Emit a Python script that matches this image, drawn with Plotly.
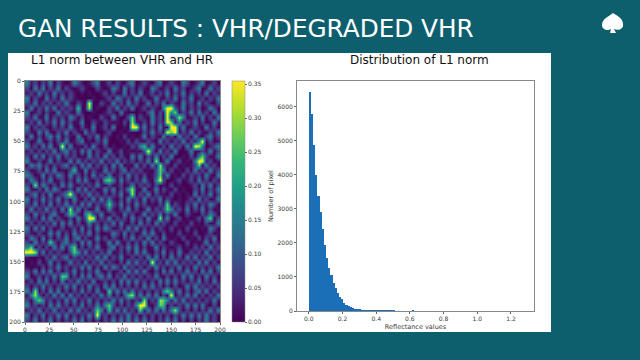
import plotly.graph_objects as go

BG = "#0E5F6E"
TXT = "#3A3A3A"
W, H = 640, 360

# Map of absolute error, coarse cells estimated by eye (digit 0-9 -> 0.0-0.35)
base_rows = [
"31202130210132101230120210230121023012103201230120",
"20313021302101210021013203120210320120312012301312",
"12031203120210101001202013021301202130213021203021",
"30210312031210000100120321203120131021302130120213",
"21302120213102100002103120312013021302103120312102",
"13021313021210010010021302130120210310213021201320",
"30120210312103100100121031000102302123102130312031",
"21301302120320201002103100210210312021203012130203",
"12030213031201300210210102001020312102130213020131",
"30212102120310210301203001020130203103213012103120",
"21031310213021031200120010100021312021302130210213",
"13020231302103102130210102010130210312031203102312",
"20131020213012301021300010202102103120213021310201",
"31203130120301020310201001021301310203120312030123",
"12020213023120313021030120101020203120300130121302",
"20313021302120103120312021031302130213001020312013",
"31020130210303120213021302120213020130120103021201",
"13231202123020313021203130103020310210201012103120",
"20120313010201030210312023021201021302010203120312",
"32013021320312020312130120312020120130102021203103",
"13202130120203131020203031202131031200120120312021",
"20313202031310202131020120130212020102010012031302",
"31020313201203130201313021301030130210201002130213",
"12302030123120213120202130120213021102010103021302",
"30213121302031020303131020312030213021010120312013",
"21302030213120313021202130203120102130210213021320",
"13021312030213020130131021302013021203120302130201",
"20312023102131030213002103120130213021300210021320",
"31203130210203120302130212031203102130120101203102",
"12020213031302013120213031020312031210201020102013",
"30313020120120302031320120313020202102010201010320",
"21020131302031213020013203020131310201020102001201",
"13203020213023020131202102131203020310102010202130",
"20312132023120313020130310202031302102100201013021",
"31020203130310202131023021313020130210120102120312",
"21313020210203130202130120203131021302031021203021",
"10010213123021202131302131020203130203120313021302",
"01020130201312030213021020313120212031302120313020",
"10102021312021313020313203120202131202130203120213",
"21303130202130202131020120313131020313021312031302",
"30120213123020313023130213020202131020203130203120",
"12031302030213120301202031313120203131312021302031",
"20213120213130203120313020202031312020201313121202",
"31302031302021312031021313131202021313130202313021",
"13020213130312020213130202031313130202021313020213",
"20313120203130213020213131202020213131313020202131",
"31202031312021302131302020213131020202021313131020",
"12130213020313120203021313120213131313120202021313",
"30213021313020213131202021312020202020213131313120",
"21302130202131302020213131313131202131302020213120",
]
# Bright spots: (row, column, digit)
hot_cells = [
(4,16,9),(5,16,8),(5,13,6),(5,36,9),(5,37,9),(6,36,9),(7,36,9),(7,27,7),(8,27,8),(9,27,9),(9,28,9),
(6,38,7),(7,39,8),(8,36,9),(8,37,7),(9,37,9),(9,38,9),(10,38,9),(10,36,9),(10,37,7),(12,45,9),(13,43,9),(13,44,8),
(13,30,6),(16,44,9),(16,45,9),(15,45,7),(17,44,7),(13,9,9),(14,31,9),(16,33,8),(17,34,8),(18,34,7),(19,34,7),
(20,34,9),(18,12,6),(21,2,8),(23,11,9),(22,27,8),(23,27,8),(20,21,7),(20,20,6),(26,11,8),(27,11,6),
(28,16,9),(28,17,9),(27,16,7),(25,21,7),(25,36,7),(26,36,7),(28,47,7),(28,34,8),
(35,0,9),(35,1,9),(35,2,8),(34,1,7),(33,6,7),(34,12,7),(35,12,7),(37,32,9),(40,9,7),(40,10,6),
(43,2,8),(44,2,8),(45,3,7),(43,21,7),(44,27,8),(44,26,6),(46,29,9),(46,30,9),(45,30,8),(47,29,7),(45,34,8),(45,35,7),
(44,37,9),(43,36,7),(47,38,8),(48,18,9),(47,18,7),(46,21,7),(47,21,6),(46,34,7),(46,35,6),
]
digit_values = [0.0,0.02,0.08,0.155,0.18,0.21,0.24,0.27,0.31,0.37]

error_max = 0.355
cell_size = 4
hist_bin_width = 0.0128
hist_counts = [6440,5785,4875,3995,3386,2915,2408,1938,1565,1263,1057,831,684,529,420,352,
226,176,147,109,80,62,46,36,28,24,20,18,15,12,10,7,5,4,3,3,2,2,1,9,0,0,0,0,0,0,0,0,7]
hist_ticks_x = [0.0,0.2,0.4,0.6,0.8,1.0,1.2]
hist_ticks_y = [0,1000,2000,3000,4000,5000,6000]
map_ticks = [0,25,50,75,100,125,150,175,200]
cbar_ticks = [0.00,0.05,0.10,0.15,0.20,0.25,0.30,0.35]

grid = [[int(c) for c in r.ljust(50,"1")[:50]] for r in base_rows]
for r, c, v in hot_cells:
    grid[r][c] = v
z = [[digit_values[d] for d in row] for row in grid]
cell_centers = [cell_size * (i + 0.5) for i in range(50)]
bin_centers = [hist_bin_width * (i + 0.5) for i in range(len(hist_counts))]

def dx(a, b): return [a / W, b / W]
def dy(top, bot): return [1 - bot / H, 1 - top / H]

fig = go.Figure()
fig.add_trace(go.Heatmap(
    x=cell_centers, y=cell_centers, z=z, colorscale="Viridis", zmin=0, zmax=error_max, zsmooth="best",
    xaxis="x", yaxis="y",
    colorbar=dict(x=232/W, xanchor="left", xpad=0, ypad=0, y=(H-322)/H, yanchor="bottom",
                  len=241/H, lenmode="fraction", thickness=13, thicknessmode="pixels",
                  tickvals=cbar_ticks, ticktext=[f"{v:.2f}" for v in cbar_ticks],
                  ticks="outside", ticklen=2, tickwidth=1, tickcolor="#666",
                  tickfont=dict(family="DejaVu Sans", size=6, color=TXT),
                  outlinewidth=0.5, outlinecolor="#888"),
))
fig.add_trace(go.Bar(x=bin_centers, y=hist_counts, width=hist_bin_width, marker=dict(color="#1B6FB6", line=dict(width=0)),
                     xaxis="x2", yaxis="y2", showlegend=False))

tick = dict(ticks="outside", ticklen=2, tickwidth=1, tickcolor="#666", tickfont=dict(family="DejaVu Sans", size=6, color=TXT),
            showgrid=False, zeroline=False, showline=True, linecolor="#888", linewidth=1, mirror=True, automargin=False)

P = lambda x, y: f"{x/W} {1-y/H}"
spade = ("M " + P(613,13) + " C " + P(608,17) + " " + P(602,19) + " " + P(602,25) +
         " C " + P(602,30) + " " + P(608,31) + " " + P(611,29) + " L " + P(610,33) + " L " + P(616,33) + " L " + P(614,29) +
         " C " + P(618,31) + " " + P(624,29) + " " + P(623,24) + " C " + P(623,19) + " " + P(618,16) + " " + P(613,13) + " Z")

fig.update_layout(
    width=W, height=H, margin=dict(l=0,r=0,t=0,b=0), autosize=False,
    paper_bgcolor=BG, plot_bgcolor="white", showlegend=False, bargap=0,
    xaxis=dict(domain=dx(25,220), range=[0,200], tickvals=map_ticks, **tick),
    yaxis=dict(domain=dy(81,322), range=[200,0], tickvals=map_ticks, **tick),
    xaxis2=dict(domain=dx(297,534), range=[-0.07,1.337], tickvals=hist_ticks_x, tickformat=".1f", anchor="y2",
                title=dict(text="Reflectance values", font=dict(family="DejaVu Sans", size=6.5, color=TXT), standoff=3), **tick),
    yaxis2=dict(domain=dy(81,311), range=[0,6755], tickvals=hist_ticks_y, anchor="x2",
                title=dict(text="Number of pixel", font=dict(family="DejaVu Sans", size=6.5, color=TXT), standoff=3), **tick),
    shapes=[
        dict(type="rect", xref="paper", yref="paper", x0=8/W, x1=551/W, y0=1-332/H, y1=1-53/H,
             fillcolor="white", line=dict(width=0), layer="below"),
        dict(type="path", xref="paper", yref="paper", fillcolor="white", line=dict(width=0), layer="above", path=spade),
    ],
    annotations=[
        dict(text="GAN RESULTS : VHR/DEGRADED VHR", xref="paper", yref="paper", x=16/W, y=1-28.5/H, xanchor="left", yanchor="middle",
             showarrow=False, font=dict(family="DejaVu Sans", size=24.7, color="white")),
        dict(text="L1 norm between VHR and HR", xref="paper", yref="paper", x=121.5/W, y=1-60/H, xanchor="center", yanchor="middle",
             showarrow=False, font=dict(family="DejaVu Sans", size=12, color="#111")),
        dict(text="Distribution of L1 norm", xref="paper", yref="paper", x=419/W, y=1-60/H, xanchor="center", yanchor="middle",
             showarrow=False, font=dict(family="DejaVu Sans", size=12, color="#111")),
    ],
)
fig.write_html("out.html", config=dict(displayModeBar=False), post_script="document.body.style.margin='0';document.body.style.overflow='hidden';")
